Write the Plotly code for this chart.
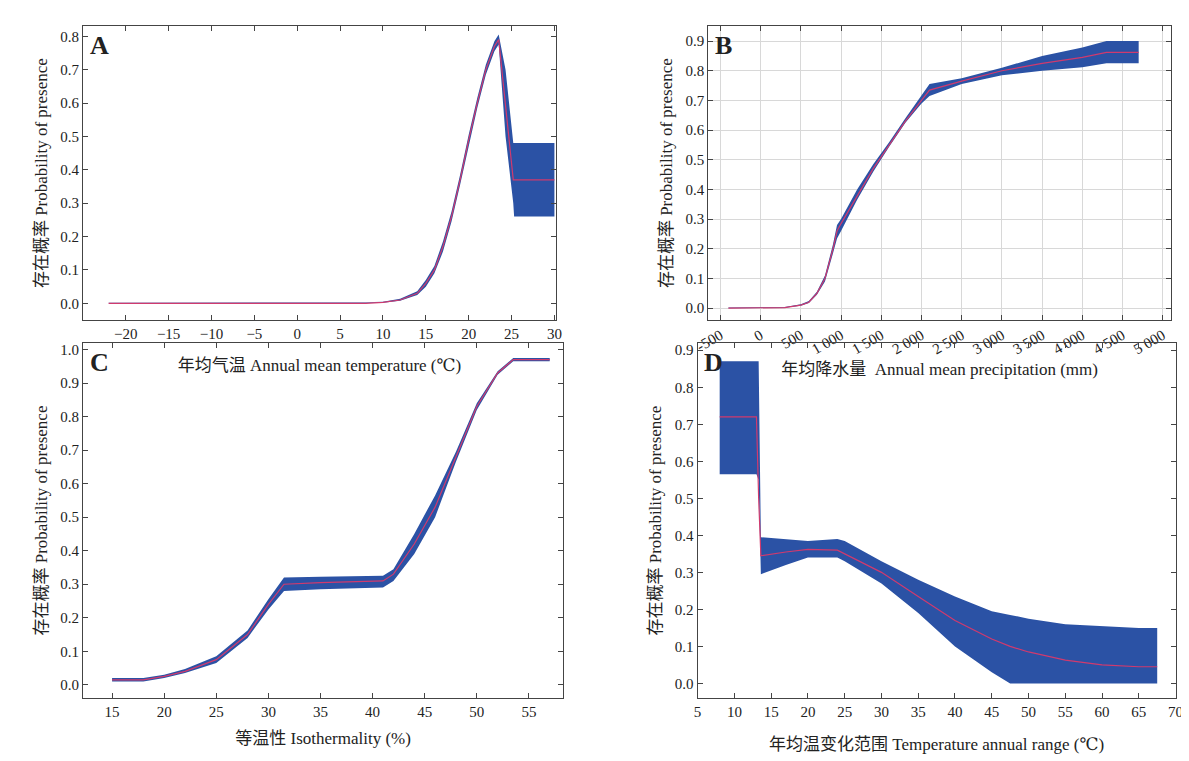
import plotly.graph_objects as go

# Panel A - annual mean temperature
a_x = [-22, 0, 8, 10, 12, 14, 15, 16, 17, 18, 19, 20, 21, 22, 23, 23.5, 24.3, 25.2, 25.3, 30]
a_mean = [0, 0, 0, 0.003, 0.01, 0.03, 0.06, 0.1, 0.17, 0.26, 0.37, 0.49, 0.6, 0.7, 0.77, 0.79, 0.6, 0.37, 0.37, 0.37]
a_low = [0, 0, 0, 0.002, 0.008, 0.025, 0.05, 0.09, 0.155, 0.245, 0.355, 0.475, 0.585, 0.685, 0.755, 0.775, 0.5, 0.3, 0.26, 0.26]
a_up = [0.002, 0.002, 0.003, 0.005, 0.014, 0.036, 0.07, 0.112, 0.185, 0.275, 0.385, 0.505, 0.615, 0.715, 0.785, 0.805, 0.7, 0.48, 0.48, 0.48]
a_ticks = [-20, -15, -10, -5, 0, 5, 10, 15, 20, 25, 30]

# Panel B - annual mean precipitation
b_x = [-400, 300, 500, 600, 700, 800, 900, 950, 1000, 1200, 1400, 1600, 1800, 2000, 2100, 2500, 3000, 3500, 4000, 4300, 4700]
b_mean = [0, 0.002, 0.01, 0.02, 0.05, 0.1, 0.2, 0.26, 0.285, 0.38, 0.47, 0.55, 0.63, 0.7, 0.735, 0.765, 0.8, 0.825, 0.845, 0.862, 0.862]
b_low = [0, 0.001, 0.008, 0.017, 0.045, 0.09, 0.185, 0.235, 0.26, 0.365, 0.46, 0.545, 0.625, 0.69, 0.715, 0.755, 0.785, 0.8, 0.812, 0.825, 0.825]
b_up = [0.002, 0.004, 0.013, 0.024, 0.055, 0.11, 0.215, 0.28, 0.3, 0.4, 0.485, 0.56, 0.64, 0.715, 0.755, 0.775, 0.81, 0.85, 0.878, 0.9, 0.9]
b_ticks = [-500, 0, 500, 1000, 1500, 2000, 2500, 3000, 3500, 4000, 4500, 5000]
b_ticktext = ["-500", "0", "500", "1 000", "1 500", "2 000", "2 500", "3 000", "3 500", "4 000", "4 500", "5 000"]

# Panel C - isothermality
c_x = [15, 18, 20, 22, 25, 28, 30, 31.5, 35, 41, 42, 44, 46, 48, 50, 52, 53.5, 57]
c_mean = [0.015, 0.015, 0.025, 0.04, 0.075, 0.15, 0.24, 0.3, 0.305, 0.31, 0.33, 0.42, 0.53, 0.68, 0.83, 0.93, 0.97, 0.97]
c_low = [0.01, 0.01, 0.02, 0.035, 0.065, 0.14, 0.225, 0.28, 0.285, 0.29, 0.31, 0.39, 0.5, 0.665, 0.82, 0.925, 0.965, 0.965]
c_up = [0.02, 0.02, 0.03, 0.047, 0.085, 0.162, 0.255, 0.32, 0.322, 0.325, 0.345, 0.45, 0.565, 0.695, 0.84, 0.935, 0.975, 0.975]

# Panel D - temperature annual range
d_x = [8, 13, 13.3, 13.6, 17, 20, 24, 25, 30, 35, 40, 45, 47.5, 50, 55, 60, 65, 67.5]
d_mean = [0.72, 0.72, 0.5, 0.345, 0.355, 0.362, 0.36, 0.35, 0.3, 0.235, 0.17, 0.12, 0.1, 0.085, 0.063, 0.05, 0.045, 0.045]
d_low = [0.565, 0.565, 0.55, 0.295, 0.32, 0.34, 0.34, 0.33, 0.27, 0.19, 0.1, 0.03, 0.0, 0.0, 0.0, 0.0, 0.0, 0.0]
d_up = [0.87, 0.87, 0.87, 0.395, 0.39, 0.385, 0.39, 0.385, 0.33, 0.28, 0.235, 0.195, 0.185, 0.175, 0.16, 0.155, 0.15, 0.15]

band_col = "#2b52a5"
line_col = "#d03a6e"
font = "'Liberation Serif', 'DejaVu Serif', 'Noto Sans CJK SC', serif"

panels = [
    (a_x, a_mean, a_low, a_up, "x", "y"),
    (b_x, b_mean, b_low, b_up, "x2", "y2"),
    (c_x, c_mean, c_low, c_up, "x3", "y3"),
    (d_x, d_mean, d_low, d_up, "x4", "y4"),
]

fig = go.Figure()
for xs, m, lo, up, xa, ya in panels:
    fig.add_trace(go.Scatter(x=xs, y=lo, mode="lines", line=dict(width=0, color=band_col),
                             xaxis=xa, yaxis=ya, showlegend=False))
    fig.add_trace(go.Scatter(x=xs, y=up, mode="lines", line=dict(width=0, color=band_col),
                             fill="tonexty", fillcolor=band_col, xaxis=xa, yaxis=ya, showlegend=False))
    fig.add_trace(go.Scatter(x=xs, y=m, mode="lines", line=dict(width=1.2, color=line_col),
                             xaxis=xa, yaxis=ya, showlegend=False))

ax = dict(showline=True, mirror="ticks", linecolor="#444", linewidth=1, ticks="inside",
          ticklen=5, tickcolor="#444", zeroline=False, showgrid=False, automargin=False,
          tickfont=dict(size=15, color="#222", family=font))
ytitle = "存在概率 Probability of presence"

def t(text, st):
    return dict(text=text, standoff=st, font=dict(size=17, family=font, color="#222"))

fig.update_layout(
    width=1189, height=761, margin=dict(l=0, r=0, t=0, b=0),
    plot_bgcolor="white", paper_bgcolor="white",
    font=dict(family=font, size=17, color="#222"),
    xaxis=dict(ax, domain=[0.063, 0.461], range=[-25, 30.2], tickvals=a_ticks, anchor="y",
               title=t("年均气温 Annual mean temperature (℃)", 18)),
    yaxis=dict(ax, domain=[0.59, 0.976], range=[-0.05, 0.83], dtick=0.1, tickformat=".1f", anchor="x",
               title=t(ytitle, 8)),
    xaxis2=dict(ax, domain=[0.589, 0.978], range=[-650, 5100], tickvals=b_ticks, ticktext=b_ticktext,
                tickangle=-30, showgrid=True, gridcolor="#d8d8d8", anchor="y2",
                title=t("年均降水量  Annual mean precipitation (mm)", 6)),
    yaxis2=dict(ax, domain=[0.59, 0.976], range=[-0.04, 0.95], dtick=0.1, tickformat=".1f",
                showgrid=True, gridcolor="#d8d8d8", anchor="x2",
                title=t(ytitle, 8)),
    xaxis3=dict(ax, domain=[0.063, 0.467], range=[12.2, 58.3], dtick=5, anchor="y3",
                title=t("等温性 Isothermality (%)", 12)),
    yaxis3=dict(ax, domain=[0.093, 0.56], range=[-0.04, 1.02], dtick=0.1, tickformat=".1f", anchor="x3",
                title=t(ytitle, 8)),
    xaxis4=dict(ax, domain=[0.58, 0.982], range=[5, 70], dtick=5, anchor="y4",
                title=t("年均温变化范围 Temperature annual range (℃)", 18)),
    yaxis4=dict(ax, domain=[0.093, 0.56], range=[-0.04, 0.92], dtick=0.1, tickformat=".1f", anchor="x4",
                title=t(ytitle, 8)),
)

for lab, xd, yd in [("A", "x domain", "y domain"), ("B", "x2 domain", "y2 domain"),
                    ("C", "x3 domain", "y3 domain"), ("D", "x4 domain", "y4 domain")]:
    fig.add_annotation(text="<b>" + lab + "</b>", xref=xd, yref=yd, x=0.01, y=0.99,
                       xanchor="left", yanchor="top", showarrow=False,
                       font=dict(size=26, family=font, color="#222"))

fig.write_html("out.html")
